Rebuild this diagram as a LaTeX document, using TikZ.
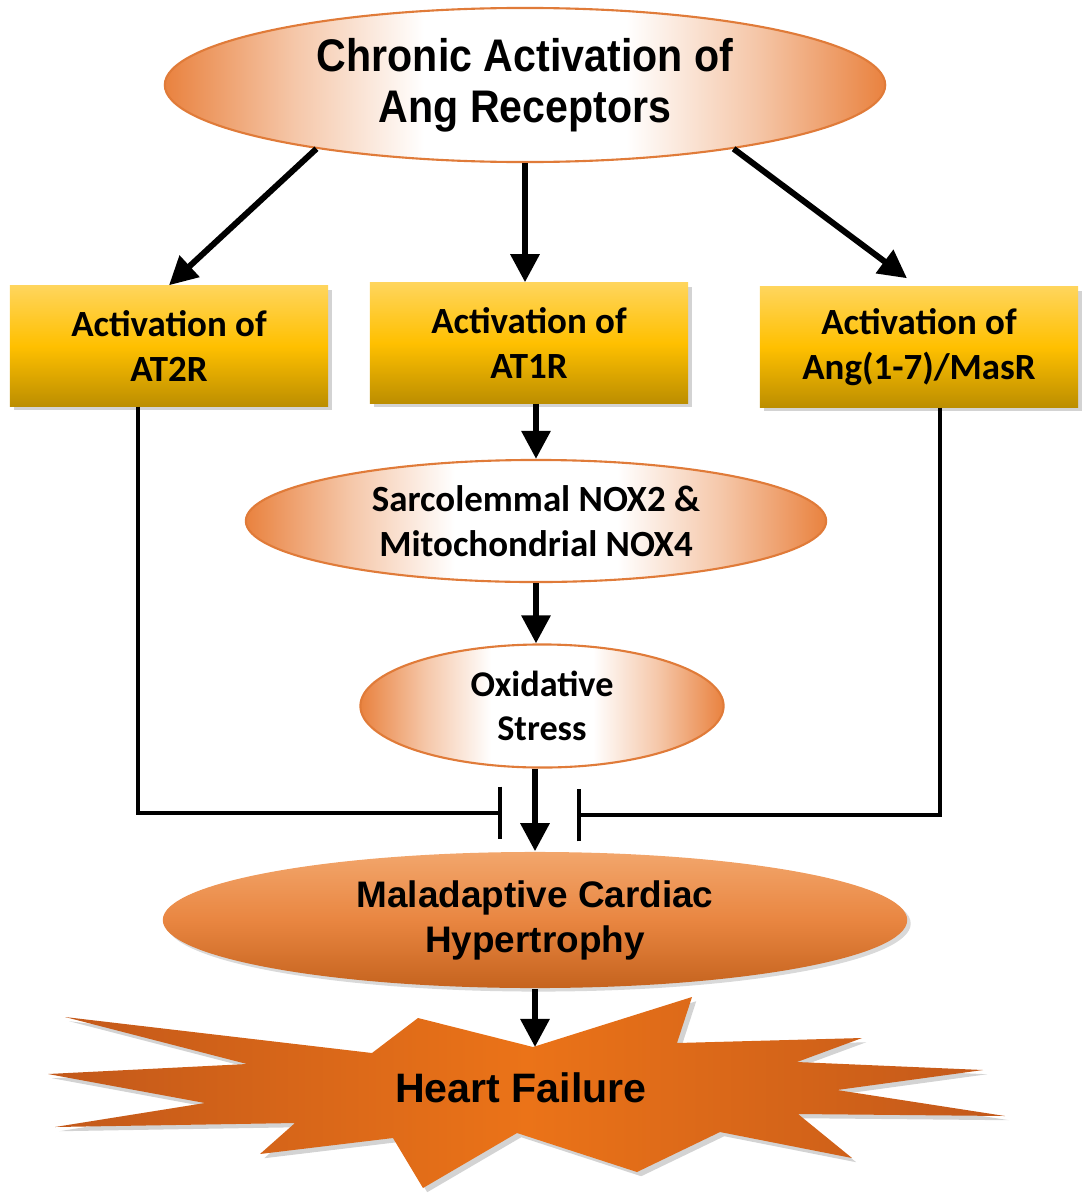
\documentclass[tikz,border=0pt]{standalone}
\usepackage{fontspec}
\setmainfont{Carlito}
\newfontfamily\arialnarrow{Liberation Sans}[FakeStretch=0.9]
\newfontfamily\arialsans{Liberation Sans}
\usepackage{tikz}
\usetikzlibrary{arrows.meta, shapes.geometric, shadows, calc}

\definecolor{ovalorange}{HTML}{E9823F}
\definecolor{ovalline}{HTML}{E07B39}
\definecolor{boxtop}{HTML}{FFD55C}
\definecolor{boxmid}{HTML}{FFC000}
\definecolor{boxbot}{HTML}{BC8E00}
\definecolor{hyptop}{HTML}{F2A66C}
\definecolor{hypmid}{HTML}{E98641}
\definecolor{hypbot}{HTML}{C5631E}
\definecolor{burstedge}{HTML}{C2581A}
\definecolor{burstmid}{HTML}{EB7318}

\pgfdeclarehorizontalshading{ovalshade}{100bp}{color(0bp)=(ovalorange); color(25bp)=(ovalorange);
  color(34bp)=(ovalorange!45!white); color(43bp)=(white); color(57bp)=(white);
  color(66bp)=(ovalorange!45!white); color(75bp)=(ovalorange); color(100bp)=(ovalorange)}

\begin{document}
\begin{tikzpicture}[
    x=0.01cm, y=-0.01cm,
    oval/.style={ellipse, draw=ovalline, line width=0.6pt, inner sep=0pt, align=center, shading=ovalshade},
    recbox/.style={rectangle, inner sep=0pt, minimum width=3.18cm, minimum height=1.2cm, align=center,
        top color=boxtop, bottom color=boxbot, middle color=boxmid,
        drop shadow={shadow xshift=1.2pt, shadow yshift=-1.2pt, opacity=0.35},
        font=\bfseries\fontsize{10.5}{12.8}\selectfont},
    arrow/.style={-{Triangle[length=8pt, width=8pt]}, line width=1.7pt},
    inhibit/.style={-{Bar[width=15pt]}, line width=1.2pt}
]
\useasboundingbox (0,0) rectangle (1082,1200);

% Receptors
\node[oval, minimum width=7.2cm, minimum height=1.54cm, font=\arialnarrow\bfseries\fontsize{13}{14.5}\selectfont]
    (chronic) at (525,85) {Chronic Activation of\\Ang Receptors};

\node[recbox] (at2r) at (169,346) {Activation of\\AT2R};
\node[recbox] (at1r) at (529,343) {Activation of\\AT1R};
\node[recbox] (masr) at (919,347) {Activation of\\Ang(1-7)/MasR};

% NOX / stress
\node[oval, minimum width=5.8cm, minimum height=1.22cm, font=\bfseries\fontsize{10.5}{12.8}\selectfont]
    (nox) at (536,521) {Sarcolemmal NOX2 \&\\Mitochondrial NOX4};
\node[oval, minimum width=3.63cm, minimum height=1.23cm, font=\bfseries\fontsize{10.3}{12.5}\selectfont]
    (oxid) at (542,706) {Oxidative\\Stress};

\node[ellipse, inner sep=0pt, minimum width=7.44cm, minimum height=1.36cm, align=center,
    top color=hyptop, bottom color=hypbot, middle color=hypmid,
    drop shadow={shadow xshift=1pt, shadow yshift=-1pt, opacity=0.3},
    font=\arialsans\bfseries\fontsize{10.5}{12.8}\selectfont]
    (hyp) at (535,920) {Maladaptive Cardiac\\Hypertrophy};

% Heart failure
\coordinate (hftop) at (533,1047);
\path[left color=burstedge, right color=burstedge, middle color=burstmid,
    drop shadow={shadow xshift=1.2pt, shadow yshift=-1.2pt, opacity=0.35}]
    (65,1017) -- (372,1053) -- (418,1018) -- (hftop) -- (692,997) -- (677,1043)
    -- (862,1038) -- (797,1062) -- (983,1070) -- (837,1090) -- (1005,1116)
    -- (798,1114) -- (852,1158) -- (720,1132) -- (637,1172) -- (517,1133)
    -- (423,1188) -- (393,1138) -- (260,1154) -- (295,1123) -- (55,1127)
    -- (205,1103) -- (48,1074) -- (247,1064) -- cycle;
\node[font=\arialsans\bfseries\fontsize{11.7}{14}\selectfont] (hf) at (521,1088) {Heart Failure};

% Arrows
\draw[arrow] (chronic.197) -- (at2r.north);
\draw[arrow] (chronic.south) -- (chronic.south |- at1r.north);
\draw[arrow] (chronic.343) -- ([xshift=-0.12cm, yshift=0.08cm]masr.north);
\draw[arrow] (nox.north |- at1r.south) -- (nox.north);
\draw[arrow] (nox.south) -- (nox.south |- oxid.north);
\draw[arrow] (hyp.north |- oxid.south) -- (hyp.north);
\draw[arrow] (hyp.south) -- (hyp.south |- hftop);

% Inhibition
\coordinate (stopL) at (502,813);
\coordinate (stopR) at (577,815);
\draw[inhibit] ([xshift=-0.31cm]at2r.south) |- (stopL);
\draw[inhibit] ([xshift=0.21cm]masr.south) |- (stopR);
\end{tikzpicture}
\end{document}
